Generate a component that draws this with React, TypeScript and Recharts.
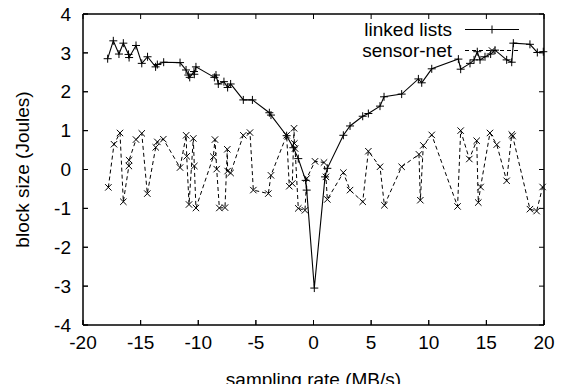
import { LineChart, Line, XAxis, YAxis, Legend } from 'recharts'

const FONT = '"Liberation Sans", Arial, Helvetica, sans-serif'

const xTicks = [-20, -15, -10, -5, 0, 5, 10, 15, 20]
const yTicks = [-4, -3, -2, -1, 0, 1, 2, 3, 4]

const linkedX = [
  -17.86, -17.37, -16.88, -16.5, -16.05, -16.0, -15.4, -14.9, -14.4, -13.7, -13.55, -13.0,
  -11.58, -11.06, -10.86, -10.74, -10.37, -10.34, -10.2, -8.6, -8.46, -8.26, -7.77, -7.45,
  -7.19, -6.09, -5.3, -3.83, -3.69, -2.33, -1.75, -1.32, -0.68, -0.59, 0.07, 1.0, 1.2,
  2.59, 3.17, 4.27, 4.76, 5.77, 6.12, 7.65, 9.1, 9.39, 10.26, 12.57, 12.77, 13.58, 13.93,
  14.21, 14.45, 14.88, 15.37, 15.75, 16.76, 17.2, 17.34, 18.78, 19.42, 19.94,
]
const linkedY = [
  2.85, 3.31, 2.97, 3.25, 2.96, 2.88, 3.19, 2.73, 2.9, 2.64, 2.7, 2.76,
  2.75, 2.56, 2.43, 2.37, 2.52, 2.45, 2.64, 2.37, 2.43, 2.2, 2.26, 2.11,
  2.2, 1.79, 1.79, 1.46, 1.4, 0.87, 0.56, 0.28, -0.28, -0.53, -3.05, -0.19, 0.03,
  0.88, 1.12, 1.37, 1.44, 1.63, 1.87, 1.94, 2.33, 2.23, 2.59, 2.84, 2.58, 2.73, 2.82,
  3.03, 2.82, 2.9, 2.97, 3.07, 2.82, 2.76, 3.25, 3.22, 3.01, 3.03,
]

const sensorX = [
  -17.8, -17.31, -16.79, -16.5, -16.02, -16.0, -15.4, -14.9, -14.42, -13.69, -13.55, -13.03,
  -11.58, -11.05, -11.0, -10.8, -10.43, -10.34, -10.2, -8.69, -8.55, -8.4, -8.17, -7.68,
  -7.48, -7.45, -7.19, -6.09, -5.51, -5.22, -3.92, -3.69, -2.33, -2.1, -1.84, -1.69, -1.66,
  -1.6, -1.32, -0.74, -0.59, 0.13, 0.91, 1.08, 1.2, 2.59, 3.17, 4.27, 4.76, 5.77, 6.15,
  7.65, 9.15, 9.27, 9.53, 10.26, 12.5, 12.77, 13.52, 14.16, 14.3, 14.5, 15.31, 15.9, 16.76,
  17.2, 17.28, 18.78, 19.36, 19.88,
]
const sensorY = [
  -0.46, 0.65, 0.94, -0.83, 0.09, 0.24, 0.77, 0.93, -0.62, 0.57, 0.71, 0.78,
  0.05, 0.88, 0.34, -0.9, 0.8, 0.09, -0.99, 0.33, 0.77, 0.01, -0.99, -0.98,
  0.52, -0.04, -0.09, 0.88, 0.95, -0.53, -0.62, -0.15, 0.88, -0.43, -0.36, 1.06, 0.67,
  0.54, -1.0, -1.05, -0.23, 0.21, 0.18, -0.19, -0.77, -0.08, -0.53, -0.83, 0.47, 0.07, -0.92,
  0.07, 0.39, -0.79, 0.62, 0.89, -0.95, 1.0, 0.27, 0.74, -0.85, -0.45, 0.94, 0.64, -0.29,
  0.9, 0.86, -1.02, -1.07, -0.45,
]

// plot border, walked corner to corner over the axis domain
const frameX = [-20, 20, 20, -20, -20]
const frameY = [-4, -4, 4, 4, -4]

const linkedData = linkedX.map((x, i) => ({ x, y: linkedY[i] }))
const sensorData = sensorX.map((x, i) => ({ x, y: sensorY[i] }))
const frameData = frameX.map((x, i) => ({ x, y: frameY[i] }))

// gnuplot style inward ticks on all four sides
const tickMarks = [
  ...xTicks.map((x) => ({ x, y: -4, dir: 'up' })),
  ...xTicks.map((x) => ({ x, y: 4, dir: 'down' })),
  ...yTicks.map((y) => ({ x: -20, y, dir: 'right' })),
  ...yTicks.map((y) => ({ x: 20, y, dir: 'left' })),
]

const plus = (cx: number, cy: number, s = 4) =>
  `M${cx - s},${cy}H${cx + s}M${cx},${cy - s}V${cy + s}`
const cross = (cx: number, cy: number, s = 3.2) =>
  `M${cx - s},${cy - s}L${cx + s},${cy + s}M${cx - s},${cy + s}L${cx + s},${cy - s}`

const PlusDot = (p: any) => (
  <path key={`p${p.index}`} d={plus(p.cx, p.cy)} stroke="#000" strokeWidth={1} fill="none" />
)
const CrossDot = (p: any) => (
  <path key={`c${p.index}`} d={cross(p.cx, p.cy)} stroke="#000" strokeWidth={1} fill="none" />
)
const TickDot = (p: any) => {
  const dir = (p.payload && p.payload.dir) || tickMarks[p.index]?.dir
  const len = 5
  const x2 = p.cx + (dir === 'right' ? len : dir === 'left' ? -len : 0)
  const y2 = p.cy + (dir === 'down' ? len : dir === 'up' ? -len : 0)
  return <line key={`t${p.index}`} x1={p.cx} y1={p.cy} x2={x2} y2={y2} stroke="#000" strokeWidth={1} />
}

const legendRows = [
  { name: 'linked lists', dash: undefined as string | undefined, mark: plus },
  { name: 'sensor-net', dash: '4 3', mark: cross },
]

const renderLegend = () => (
  <div style={{ fontFamily: FONT, fontSize: 19, color: '#000', lineHeight: '21px' }}>
    {legendRows.map((r) => (
      <div key={r.name} style={{ display: 'flex', alignItems: 'center', justifyContent: 'flex-end' }}>
        <span>{r.name}</span>
        <svg width={54} height={21} style={{ marginLeft: 13 }}>
          <line x1={0} x2={54} y1={10.5} y2={10.5} stroke="#000" strokeDasharray={r.dash} />
          <path d={r.mark(27, 10.5)} stroke="#000" fill="none" />
        </svg>
      </div>
    ))}
  </div>
)

const tickStyle = { fontSize: 19, fill: '#000', fontFamily: FONT }

export default function App() {
  return (
    <div style={{ margin: -8, width: 566, height: 392 }}>
      <LineChart width={566} height={392}>
        <XAxis
          dataKey="x"
          type="number"
          domain={[-20, 20]}
          tickCount={9}
          stroke="#000"
          tickSize={-5}
          tickMargin={16}
          tick={tickStyle}
          height={62}
          label={{ value: 'sampling rate (MB/s)', position: 'insideBottom', offset: 1, style: { fontSize: 19, fill: '#000', fontFamily: FONT } }}
        />
        <XAxis
          xAxisId="top"
          orientation="top"
          type="number"
          domain={[-20, 20]}
          tickCount={9}
          stroke="#000"
          tickSize={-5}
          tick={false}
          height={9}
        />
        <YAxis
          type="number"
          domain={[-4, 4]}
          tickCount={9}
          stroke="#000"
          tickSize={-5}
          tickMargin={17}
          tick={tickStyle}
          width={78}
          label={{ value: 'block size (Joules)', angle: -90, position: 'insideLeft', offset: 17, style: { fontSize: 19, fill: '#000', fontFamily: FONT, textAnchor: 'middle' } }}
        />
        <YAxis
          yAxisId="right"
          orientation="right"
          type="number"
          domain={[-4, 4]}
          tickCount={9}
          stroke="#000"
          tickSize={-5}
          tick={false}
          width={17}
        />
        <Legend
          layout="vertical"
          align="center"
          verticalAlign="middle"
          content={renderLegend}
          wrapperStyle={{ left: 300, top: 19, width: 219 }}
        />
        <Line
          data={frameData}
          dataKey="y"
          type="linear"
          stroke="#000"
          strokeWidth={1}
          dot={false}
          legendType="none"
          isAnimationActive={false}
        />
        <Line
          data={tickMarks}
          dataKey="y"
          stroke="none"
          dot={TickDot}
          legendType="none"
          isAnimationActive={false}
        />
        <Line
          data={linkedData}
          dataKey="y"
          name="linked lists"
          stroke="#000"
          strokeWidth={1.1}
          dot={PlusDot}
          isAnimationActive={false}
        />
        <Line
          data={sensorData}
          dataKey="y"
          name="sensor-net"
          stroke="#000"
          strokeWidth={1}
          strokeDasharray="4 3"
          dot={CrossDot}
          isAnimationActive={false}
        />
      </LineChart>
    </div>
  )
}
